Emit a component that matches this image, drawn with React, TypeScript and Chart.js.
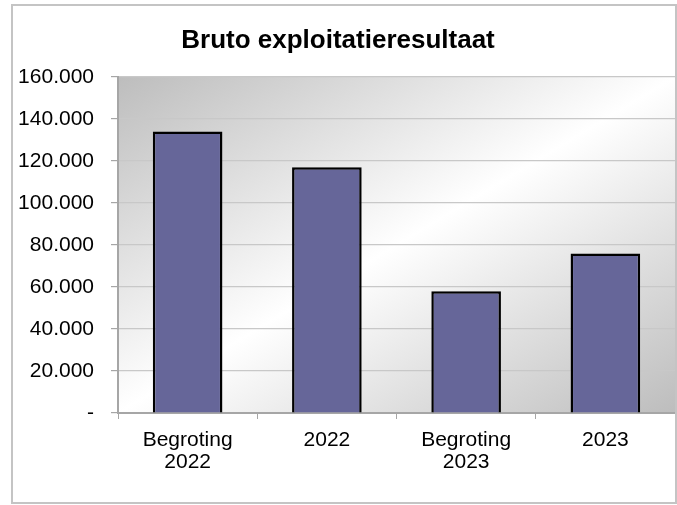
import React, { useEffect, useRef } from "react";
import { Chart, registerables } from "chart.js";

Chart.register(...registerables);

const categories: string[][] = [["Begroting", "2022"], ["2022"], ["Begroting", "2023"], ["2023"]];
const values: number[] = [134000, 117000, 58000, 76000];
const yTicks: number[] = [0, 20000, 40000, 60000, 80000, 100000, 120000, 140000, 160000];
const title = "Bruto exploitatieresultaat";

const fmt = (v: number) => (v === 0 ? "-" : String(v).replace(/\B(?=(\d{3})+(?!\d))/g, "."));

const decor = {
  id: "decor",
  beforeDraw(chart: any) {
    const { ctx, chartArea: a, width, height } = chart;
    ctx.save();
    ctx.fillStyle = "#ffffff";
    ctx.fillRect(0, 0, width, height);
    const w = a.right - a.left;
    const h = a.bottom - a.top;
    const cx = (a.left + a.right) / 2;
    const cy = (a.top + a.bottom) / 2;
    const n = Math.sqrt(w * w + h * h);
    const dx = h / n;
    const dy = w / n;
    const k = (w * h) / n;
    const g = ctx.createLinearGradient(cx - k * dx, cy - k * dy, cx + k * dx, cy + k * dy);
    g.addColorStop(0, "#bdbdbd");
    g.addColorStop(0.5, "#ffffff");
    g.addColorStop(1, "#bdbdbd");
    ctx.fillStyle = g;
    ctx.fillRect(a.left, a.top, w, h);
    ctx.restore();
  },
  afterDraw(chart: any) {
    const { ctx } = chart;
    ctx.save();
    ctx.strokeStyle = "#c4c4c4";
    ctx.lineWidth = 2;
    ctx.strokeRect(12, 5, 664, 498);
    ctx.fillStyle = "#000000";
    ctx.font = "bold 26px 'Liberation Sans', Arial, sans-serif";
    ctx.textAlign = "center";
    ctx.textBaseline = "alphabetic";
    ctx.fillText(title, 338, 48);
    ctx.restore();
  },
};

export default function App() {
  const ref = useRef<HTMLCanvasElement | null>(null);
  useEffect(() => {
    document.body.style.margin = "0";
    const chart = new Chart(ref.current as HTMLCanvasElement, {
      type: "bar",
      data: {
        labels: categories as any,
        datasets: [
          {
            data: values,
            backgroundColor: "#666699",
            borderColor: "#000000",
            borderWidth: 2.5,
            barPercentage: 0.5,
            categoryPercentage: 1,
          },
        ],
      },
      options: {
        animation: false,
        responsive: false,
        maintainAspectRatio: false,
        layout: { padding: { left: 12, top: 77, right: 2, bottom: 0 } },
        plugins: { legend: { display: false }, title: { display: false }, tooltip: { enabled: false } },
        scales: {
          x: {
            afterFit(scale: any) {
              scale.height = 92;
            },
            grid: { drawOnChartArea: false, drawTicks: true, tickLength: 6, color: "#a6a6a6", offset: true },
            border: { color: "#a6a6a6", width: 2 },
            ticks: {
              color: "#000000",
              padding: 10,
              font: { family: "'Liberation Sans', Arial, sans-serif", size: 21, lineHeight: 1.05 },
              maxRotation: 0,
              autoSkip: false,
            },
          },
          y: {
            min: 0,
            max: 160000,
            afterFit(scale: any) {
              scale.width = 106;
            },
            afterBuildTicks(scale: any) {
              scale.ticks = yTicks.map((v) => ({ value: v }));
            },
            grid: { color: "#c8c8c8", lineWidth: 1.2, tickColor: "#a6a6a6", tickLength: 7 },
            border: { color: "#a6a6a6", width: 2 },
            ticks: {
              color: "#000000",
              padding: 17,
              font: { family: "'Liberation Sans', Arial, sans-serif", size: 21 },
              callback: (v: any) => fmt(Number(v)),
            },
          },
        },
      },
      plugins: [decor],
    });
    return () => chart.destroy();
  }, []);
  return (
    <div style={{ width: 677, height: 505 }}>
      <canvas ref={ref} width={677} height={505} style={{ display: "block" }} />
    </div>
  );
}
